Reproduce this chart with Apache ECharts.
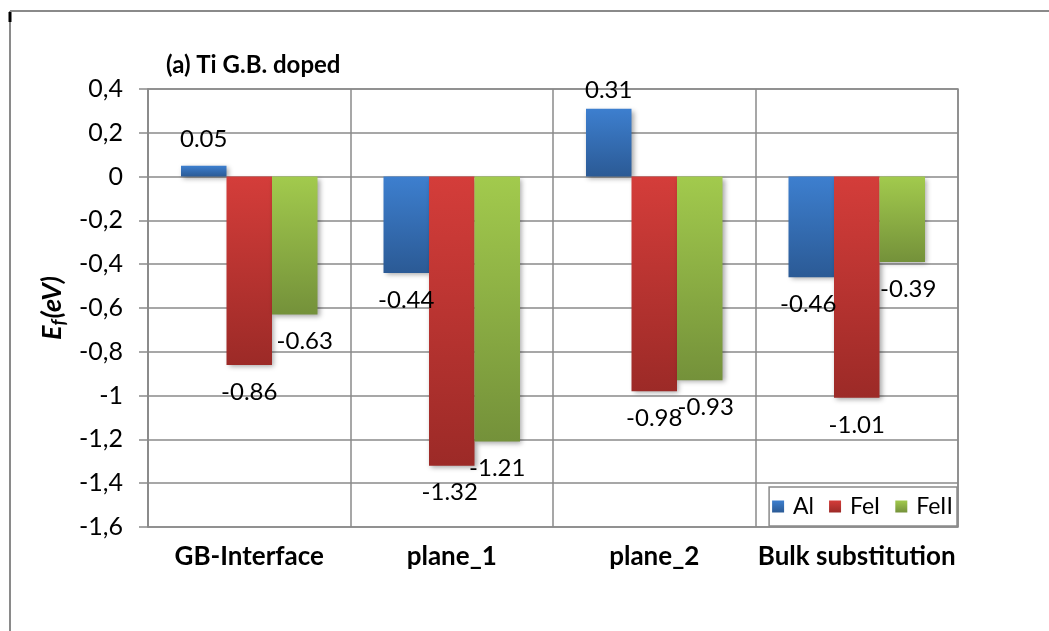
<!DOCTYPE html>
<html>
<head>
<meta charset="utf-8">
<script src="https://cdn.jsdelivr.net/npm/echarts@6/dist/echarts.min.js"></script>
<style>
html,body{margin:0;padding:0;background:#fff;}
#chart{width:1049px;height:631px;}
</style>
</head>
<body>
<div id="chart"></div>
<script>
const categories = ['GB-Interface', 'plane_1', 'plane_2', 'Bulk substitution'];
const seriesNames = ['Al', 'FeI', 'FeII'];
const alValues = [0.05, -0.44, 0.31, -0.46];
const feIValues = [-0.86, -1.32, -0.98, -1.01];
const feIIValues = [-0.63, -1.21, -0.93, -0.39];
const yTickValues = [0.4, 0.2, 0, -0.2, -0.4, -0.6, -0.8, -1, -1.2, -1.4, -1.6];
const yTickLabels = ['0,4', '0,2', '0', '-0,2', '-0,4', '-0,6', '-0,8', '-1', '-1,2', '-1,4', '-1,6'];
const titleText = '(a) Ti G.B. doped';

// styling (label horizontal nudges, as in the reference)
const labelNudgeX = {
  Al: [0, 0, 0, -3],
  FeI: [0, -2, 0, 0],
  FeII: [10, 0, 6, 6]
};

const FONT = 'Lato';
const chart = echarts.init(document.getElementById('chart'), null, {renderer: 'canvas'});

function grad(top, bottom) {
  return new echarts.graphic.LinearGradient(0, 0, 0, 1, [
    {offset: 0, color: top}, {offset: 1, color: bottom}
  ]);
}
const colors = {
  Al: grad('#3d7fcf', '#2b5a95'),
  FeI: grad('#d43d3a', '#9c2a27'),
  FeII: grad('#a2ca4d', '#74913a')
};

function makeSeries(name, values) {
  return {
    name: name,
    type: 'bar',
    barWidth: 45.5,
    barGap: '0%',
    itemStyle: {
      color: colors[name],
      shadowBlur: 5,
      shadowColor: 'rgba(0,0,0,0.35)',
      shadowOffsetX: 2,
      shadowOffsetY: 2
    },
    data: values.map((v, i) => ({
      value: v,
      label: {
        show: true,
        position: v >= 0 ? 'top' : 'bottom',
        distance: v >= 0 ? (v > 0.2 ? 6 : 14) : 15,
        offset: [labelNudgeX[name][i], 0],
        formatter: () => v.toFixed(2),
        color: '#000',
        fontFamily: FONT,
        fontSize: 24
      }
    })),
    z: 3
  };
}

const option = {
  animation: false,
  backgroundColor: '#fff',
  title: {
    text: titleText,
    left: 161,
    top: 48,
    textStyle: {fontFamily: FONT, fontWeight: 'bold', fontSize: 24, color: '#000'}
  },
  grid: {
    left: 148, right: 91, top: 89, bottom: 104,
    show: true, borderColor: '#8a8a8a', borderWidth: 1.5, backgroundColor: 'transparent'
  },
  legend: {
    right: 92, bottom: 105,
    data: seriesNames,
    icon: 'rect',
    itemWidth: 12, itemHeight: 12,
    itemGap: 15,
    backgroundColor: '#fff',
    borderColor: '#8a8a8a', borderWidth: 1.5,
    padding: [8, 4, 8, 3],
    textStyle: {fontFamily: FONT, fontSize: 23, color: '#000', padding: [0, 0, 0, 4]},
    z: 10
  },
  xAxis: {
    type: 'category',
    data: categories,
    axisLine: {show: false},
    axisTick: {show: false},
    splitLine: {show: true, lineStyle: {color: '#8a8a8a', width: 1.5}},
    axisLabel: {
      fontFamily: FONT, fontWeight: 'bold', fontSize: 26, color: '#000', margin: 17,
      interval: 0
    }
  },
  yAxis: {
    type: 'value',
    min: -1.6, max: 0.4, interval: 0.2,
    name: '{e|E}{f|f}{e|(eV)}',
    nameLocation: 'middle',
    nameRotate: 90,
    nameGap: 77,
    nameTextStyle: {
      rich: {
        e: {fontFamily: FONT, fontWeight: 'bold', fontStyle: 'italic', fontSize: 27, color: '#000', lineHeight: 34},
        f: {fontFamily: FONT, fontWeight: 'bold', fontStyle: 'italic', fontSize: 18, color: '#000', padding: [14, 1, 0, 0], lineHeight: 34}
      }
    },
    axisLine: {show: true, lineStyle: {color: '#8a8a8a', width: 1.5}},
    axisTick: {show: true, length: 9, lineStyle: {color: '#8a8a8a', width: 1.5}},
    splitLine: {show: true, lineStyle: {color: '#8a8a8a', width: 1.5}},
    axisLabel: {
      fontFamily: FONT, fontSize: 25, color: '#000', margin: 25,
      formatter: function (v) {
        const r = Math.round(v * 10) / 10;
        for (let i = 0; i < yTickValues.length; i++) {
          if (Math.abs(yTickValues[i] - r) < 1e-9) return yTickLabels[i];
        }
        return String(r).replace('.', ',');
      }
    }
  },
  graphic: [
    {type: 'line', shape: {x1: 10, y1: 11, x2: 1049, y2: 11}, style: {stroke: '#8a8a8a', lineWidth: 2}},
    {type: 'line', shape: {x1: 10, y1: 11, x2: 10, y2: 631}, style: {stroke: '#8a8a8a', lineWidth: 2}},
    {type: 'line', shape: {x1: 10, y1: 12, x2: 10, y2: 22}, style: {stroke: '#000', lineWidth: 3}}
  ],
  series: [
    makeSeries('Al', alValues),
    makeSeries('FeI', feIValues),
    makeSeries('FeII', feIIValues)
  ]
};
chart.setOption(option);
</script>
</body>
</html>
